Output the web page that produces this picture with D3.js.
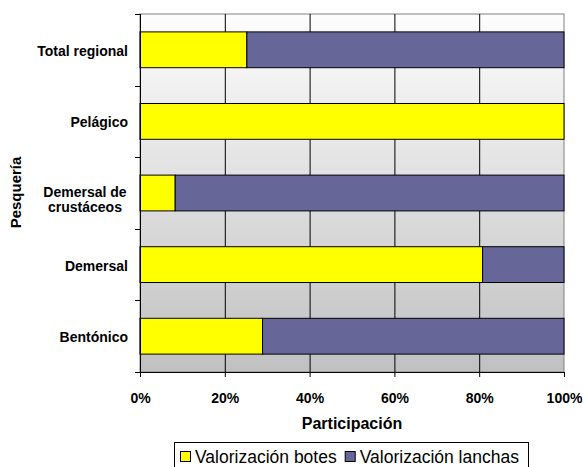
<!DOCTYPE html>
<html><head><meta charset="utf-8">
<script src="https://cdn.jsdelivr.net/npm/d3@7"></script>
<style>body{margin:0;background:#fff}svg{display:block;font-family:Arial,"Liberation Sans",sans-serif}</style>
</head><body>
<script>
const categories = ["Total regional","Pelágico","Demersal de crustáceos","Demersal","Bentónico"];
const labelLines = [["Total regional"],["Pelágico"],["Demersal de","crustáceos"],["Demersal"],["Bentónico"]];
const botes = [25.2, 100, 8.3, 80.8, 28.9];
const lanchas = [74.8, 0, 91.7, 19.2, 71.1];
const seriesNames = ["Valorización botes","Valorización lanchas"];
const seriesColors = ["#ffff00","#666699"];
const xTicks = [0,20,40,60,80,100];

const W=583,H=467;
const m={l:140,t:14,r:564,b:372};
const svg=d3.select("body").append("svg").attr("width",W).attr("height",H);
const defs=svg.append("defs");
const g=defs.append("linearGradient").attr("id","bg").attr("x1",0).attr("y1",0).attr("x2",0).attr("y2",1);
g.append("stop").attr("offset","0%").attr("stop-color","#fdfdfd");
g.append("stop").attr("offset","100%").attr("stop-color","#c0c0c0");

const x=d3.scaleLinear().domain([0,100]).range([m.l,m.r]);
const y=d3.scaleBand().domain(categories).range([m.t,m.b]).paddingInner(0.5).paddingOuter(0.25);

svg.append("rect").attr("x",m.l).attr("y",m.t).attr("width",m.r-m.l).attr("height",m.b-m.t)
  .attr("fill","url(#bg)").attr("stroke","#808080").attr("stroke-width",1);

// grid
svg.append("g").selectAll("line").data(xTicks.slice(1,-1)).join("line")
  .attr("x1",d=>x(d)+0.5).attr("x2",d=>x(d)+0.5).attr("y1",m.t).attr("y2",m.b)
  .attr("stroke","#000").attr("stroke-width",1);

// bars
categories.forEach((c,i)=>{
  let acc=0;
  [botes[i],lanchas[i]].forEach((v,j)=>{
    if(v>0){
      svg.append("rect").attr("x",x(acc)).attr("y",y(c)).attr("width",x(acc+v)-x(acc)).attr("height",y.bandwidth())
        .attr("fill",seriesColors[j]).attr("stroke","#000").attr("stroke-width",1);
    }
    acc+=v;
  });
});

// axes
const xa=svg.append("g").attr("transform",`translate(0,${m.b})`)
  .call(d3.axisBottom(x).tickValues(xTicks).tickFormat(d=>d+"%").tickSize(5).tickSizeOuter(0));
xa.select(".domain").attr("stroke","#000");
xa.selectAll("text").attr("font-size",14).attr("font-weight","bold").attr("font-family","Arial").attr("y",31).attr("dy",0).attr("fill","#000");

const bounds=[m.t].concat(categories.map(c=>y(c)+y.bandwidth()+y.step()*y.paddingInner()/2));
bounds[bounds.length-1]=m.b;
svg.append("line").attr("x1",m.l+0.5).attr("x2",m.l+0.5).attr("y1",m.t).attr("y2",m.b).attr("stroke","#000");
svg.append("g").selectAll("line").data(bounds).join("line")
  .attr("x1",m.l-5).attr("x2",m.l).attr("y1",d=>Math.round(d)+0.5).attr("y2",d=>Math.round(d)+0.5).attr("stroke","#000");

// category labels
categories.forEach((c,i)=>{
  const lines=labelLines[i];
  const cy=y(c)+y.bandwidth()/2;
  const t=svg.append("text").attr("font-size",14).attr("font-weight","bold");
  if(lines.length===1){
    t.attr("x",128).attr("y",cy+6).attr("text-anchor","end").text(lines[0]);
  } else {
    lines.forEach((ln,k)=>{
      t.append("tspan").attr("x",85).attr("y",cy+4+k*15).attr("text-anchor","middle").text(ln);
    });
  }
});

svg.append("text").attr("x",(m.l+m.r)/2).attr("y",429).attr("text-anchor","middle")
  .attr("font-size",16).attr("font-weight","bold").text("Participación");
svg.append("text").attr("transform",`translate(21,${192.5}) rotate(-90)`).attr("text-anchor","middle")
  .attr("font-size",15).attr("font-weight","bold").text("Pesquería");

// legend
const lg=svg.append("g");
lg.append("rect").attr("x",174.5).attr("y",442.5).attr("width",354).attr("height",30).attr("fill","#fff").attr("stroke","#000");
let lx=180;
seriesNames.forEach((n,i)=>{
  lg.append("rect").attr("x",lx+0.5).attr("y",451.5).attr("width",10).attr("height",10).attr("fill",seriesColors[i]).attr("stroke","#000");
  const t=lg.append("text").attr("x",lx+15).attr("y",463).attr("font-size",17.5).text(n);
  lx+=15+t.node().getComputedTextLength()+8;
});
</script>
</body></html>
